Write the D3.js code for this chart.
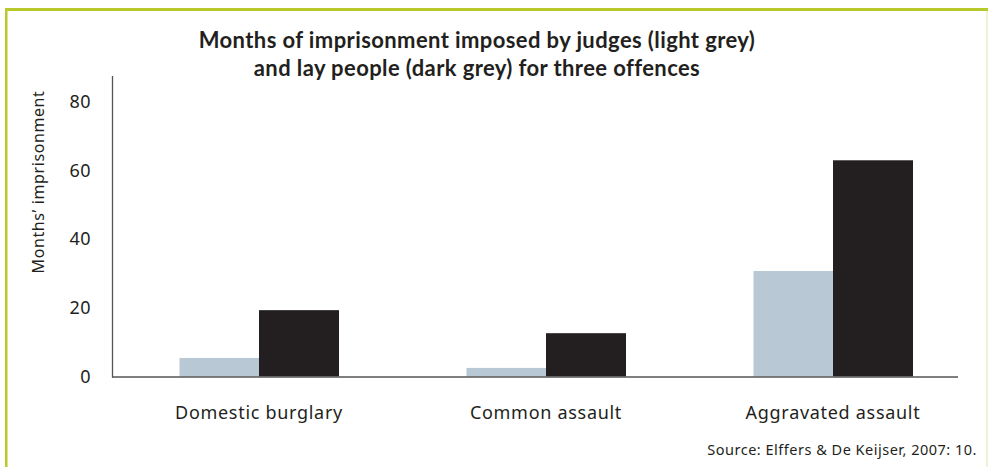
<!DOCTYPE html>
<html>
<head>
<meta charset="utf-8">
<script src="https://cdn.jsdelivr.net/npm/d3@7"></script>
<style>
  body { margin: 0; background: #fff; }
  text { font-family: "Noto Sans", "Open Sans", sans-serif; fill: #231f20; }
</style>
</head>
<body>
<svg id="chart" width="988" height="467"></svg>
<script>
  var categories = ["Domestic burglary", "Common assault", "Aggravated assault"];
  var judges     = [5.4, 2.5, 30.7];
  var layPeople  = [19.3, 12.6, 62.9];
  var yTicks     = [0, 20, 40, 60, 80];

  var svg = d3.select("#chart");

  // frame
  svg.append("rect").attr("x", 5).attr("y", 8).attr("width", 983).attr("height", 3).attr("fill", "#b8c92b");
  svg.append("rect").attr("x", 5).attr("y", 8).attr("width", 2.5).attr("height", 459).attr("fill", "#b8c92b");
  svg.append("rect").attr("x", 986.5).attr("y", 11).attr("width", 1).attr("height", 456).attr("fill", "#dfe6b0");

  var y = d3.scaleLinear().domain([0, 80]).range([376.5, 101.5]);

  var x0 = d3.scaleBand().domain(categories).range([115.5, 976.5]);
  var x1 = d3.scaleBand().domain(["judges", "lay"]).range([0, x0.bandwidth()]).paddingOuter(0.805);
  var colors = { judges: "#b8c8d5", lay: "#231f20" };

  var rows = categories.map(function (c, i) {
    return { cat: c, vals: [ { k: "judges", v: judges[i] }, { k: "lay", v: layPeople[i] } ] };
  });

  var g = svg.selectAll("g.cat").data(rows).enter().append("g")
    .attr("transform", function (d) { return "translate(" + x0(d.cat) + ",0)"; });

  g.selectAll("rect").data(function (d) { return d.vals; }).enter().append("rect")
    .attr("x", function (d) { return x1(d.k); })
    .attr("width", x1.bandwidth() + 0.5)
    .attr("y", function (d) { return y(d.v); })
    .attr("height", function (d) { return y(0) - y(d.v); })
    .attr("fill", function (d) { return colors[d.k]; });

  // axes lines
  svg.append("line").attr("x1", 112.5).attr("x2", 112.5).attr("y1", 76).attr("y2", 377.5)
    .attr("stroke", "#555").attr("stroke-width", 1.3);
  svg.append("line").attr("x1", 112).attr("x2", 958).attr("y1", 377).attr("y2", 377)
    .attr("stroke", "#555").attr("stroke-width", 1.3);

  svg.selectAll("text.ytick").data(yTicks).enter().append("text")
    .attr("x", 91).attr("y", function (d) { return y(d); })
    .attr("dy", "0.35em").attr("text-anchor", "end")
    .style("font-size", "18px").style("letter-spacing", "0.5px")
    .text(function (d) { return d; });

  svg.selectAll("text.xlab").data(categories).enter().append("text")
    .attr("x", function (d) { return x0(d) + x0.bandwidth() / 2; })
    .attr("y", 419).attr("text-anchor", "middle")
    .style("font-size", "18px").style("letter-spacing", "0.7px")
    .text(function (d) { return d; });

  svg.append("text")
    .attr("transform", "translate(44,182) rotate(-90)")
    .attr("text-anchor", "middle")
    .style("font-size", "16px").style("letter-spacing", "0.6px")
    .text("Months\u2019 imprisonment");

  var title = svg.append("text").attr("text-anchor", "middle")
    .style("font-family", "Lato, 'Liberation Sans', sans-serif")
    .style("font-weight", "bold").style("font-size", "22px").style("letter-spacing", "0.4px");
  title.append("tspan").attr("x", 477).attr("y", 48).text("Months of imprisonment imposed by judges (light grey)");
  title.append("tspan").attr("x", 477).attr("y", 76).text("and lay people (dark grey) for three offences");

  svg.append("text").attr("x", 977).attr("y", 455).attr("text-anchor", "end")
    .style("font-size", "14.5px").style("letter-spacing", "0.5px")
    .text("Source: Elffers & De Keijser, 2007: 10.");
</script>
</body>
</html>
